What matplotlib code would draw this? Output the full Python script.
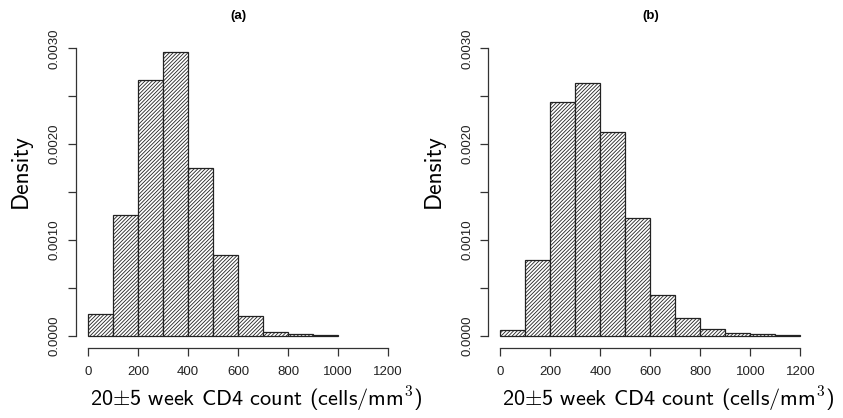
import matplotlib
matplotlib.use("Agg")
import matplotlib.pyplot as plt
import numpy as np

plt.rcParams['font.family'] = ['Liberation Sans', 'DejaVu Sans']
plt.rcParams['mathtext.fontset'] = 'cm'
plt.rcParams['hatch.linewidth'] = 0.6
plt.rcParams['hatch.color'] = '#333333'

# histogram bins (cells/mm3) and densities
bins_a = [0, 100, 200, 300, 400, 500, 600, 700, 800, 900, 1000]
dens_a = [0.000226, 0.001257, 0.002667, 0.002965, 0.001747, 0.000844,
          0.000208, 0.000038, 0.000017, 0.000015]

bins_b = [0, 100, 200, 300, 400, 500, 600, 700, 800, 900, 1000, 1100, 1200]
dens_b = [0.000059, 0.000788, 0.002444, 0.002635, 0.002125, 0.001229,
          0.000424, 0.000184, 0.000070, 0.000028, 0.000018, 0.000010]

titles = ['(a)', '(b)']
xlab = r'20$\pm$5 week CD4 count (cells/mm$^3$)'
yticks = [0, 0.0005, 0.001, 0.0015, 0.002, 0.0025, 0.003]
ylabs = ['0.0000', '', '0.0010', '', '0.0020', '', '0.0030']
xticks = [0, 200, 400, 600, 800, 1000, 1200]

W, H = 843, 418
fig = plt.figure(figsize=(W / 100, H / 100), dpi=100)

panels = [(76, bins_a, dens_a), (488.3, bins_b, dens_b)]
for i, (x0, bins, dens) in enumerate(panels):
    ax = fig.add_axes([x0 / W, (H - 347.5) / H, 324 / W, 310.7 / H])
    edges = np.array(bins)
    ax.bar(edges[:-1], dens, width=np.diff(edges), align='edge',
           facecolor='white', edgecolor='#222222', linewidth=0.9,
           hatch='/////////')
    ax.set_xlim(-48, 1248)
    ax.set_ylim(-0.00012, 0.00312)
    for s in ['top', 'right']:
        ax.spines[s].set_visible(False)
    ax.spines['left'].set_bounds(0, 0.003)
    ax.spines['bottom'].set_bounds(0, 1200)
    for s in ['left', 'bottom']:
        ax.spines[s].set_color('#333333')
        ax.spines[s].set_linewidth(0.9)
    ax.set_xticks(xticks)
    ax.set_xticklabels([str(t) for t in xticks])
    ax.set_yticks(yticks)
    ax.set_yticklabels(ylabs, rotation=90, va='center')
    ax.tick_params(axis='both', direction='out', length=6, width=0.9,
                   color='#333333', labelsize=9.5, labelcolor='#222222')
    ax.tick_params(axis='x', pad=7)
    ax.tick_params(axis='y', pad=5)
    ax.set_title(titles[i], fontsize=9.5, fontweight='bold', pad=13)
    ax.set_xlabel(xlab, fontsize=16, family='cmss10', labelpad=5,
                  x=0.5 + 18 / 324)
    ax.set_ylabel('Density', fontsize=17, family='cmss10', labelpad=12,
                  y=0.568)

fig.savefig('out.png', dpi=100)
